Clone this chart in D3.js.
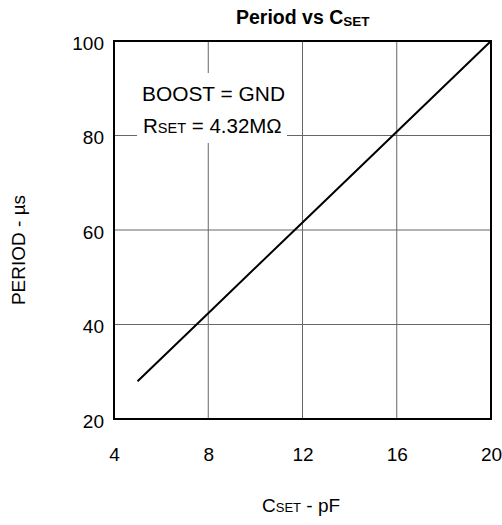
<!DOCTYPE html>
<html><head><meta charset="utf-8">
<script src="https://cdn.jsdelivr.net/npm/d3@7"></script>
<style>body{margin:0;background:#fff}svg{font-family:"Liberation Sans",Arial,sans-serif}</style>
</head><body><svg id="c" width="502" height="525"></svg>
<script>
const csetPF = [5, 8, 12, 16, 20];
const periodUs = [28, 42.4, 61.6, 80.8, 100];
const xTicks = [4, 8, 12, 16, 20];
const yTicks = [20, 40, 60, 80, 100];

const svg = d3.select("#c");
const L = 114, R = 491, T = 41, B = 419;
const x = d3.scaleLinear().domain([4, 20]).range([L, R]);
const y = d3.scaleLinear().domain([20, 100]).range([B, T]);

// grid
svg.append("g").selectAll("line").data(xTicks.slice(1, -1)).join("line")
  .attr("x1", d => x(d)).attr("x2", d => x(d)).attr("y1", T).attr("y2", B)
  .attr("stroke", "#666").attr("stroke-width", 1);
svg.append("g").selectAll("line").data(yTicks.slice(1, -1)).join("line")
  .attr("y1", d => y(d)).attr("y2", d => y(d)).attr("x1", L).attr("x2", R)
  .attr("stroke", "#666").attr("stroke-width", 1);

// annotation background
svg.append("rect").attr("x", 137).attr("y", 73).attr("width", 150).attr("height", 70).attr("fill", "#fff");

// axes
const xAxis = svg.append("g").attr("transform", `translate(0,${B})`)
  .call(d3.axisBottom(x).tickValues(xTicks).tickSize(0).tickPadding(0));
xAxis.select(".domain").remove();
xAxis.selectAll("text").attr("font-size", 19).attr("fill", "#000")
  .attr("font-family", "Liberation Sans, Arial, sans-serif").attr("dy", null).attr("y", 42);
const yAxis = svg.append("g").attr("transform", `translate(${L},0)`)
  .call(d3.axisLeft(y).tickValues(yTicks).tickSize(0).tickPadding(10));
yAxis.select(".domain").remove();
yAxis.selectAll("text").attr("font-size", 19).attr("fill", "#000")
  .attr("font-family", "Liberation Sans, Arial, sans-serif").attr("dy", null).attr("y", 8);

// data line
svg.append("path").datum(csetPF.map((c, i) => [c, periodUs[i]]))
  .attr("d", d3.line().x(d => x(d[0])).y(d => y(d[1])))
  .attr("fill", "none").attr("stroke", "#000").attr("stroke-width", 2);

// frame
svg.append("rect").attr("x", L).attr("y", T).attr("width", R - L).attr("height", B - T)
  .attr("fill", "none").attr("stroke", "#000").attr("stroke-width", 2);

// annotation text
svg.append("text").attr("x", 142).attr("y", 101).attr("font-size", 19.5)
  .attr("textLength", 143).attr("lengthAdjust", "spacingAndGlyphs").text("BOOST = GND");
const t2 = svg.append("text").attr("x", 143).attr("y", 133).attr("font-size", 20.5);
t2.append("tspan").text("R");
t2.append("tspan").attr("font-size", 14.5).text("SET");
t2.append("tspan").text(" = 4.32MΩ");

// title
const tt = svg.append("text").attr("x", 236).attr("y", 24).attr("font-size", 19.5).attr("font-weight", "bold");
tt.append("tspan").text("Period vs C");
tt.append("tspan").attr("font-size", 13.5).attr("dy", 2).text("SET");

// x label
const xl = svg.append("text").attr("x", 262).attr("y", 512).attr("font-size", 19);
xl.append("tspan").text("C");
xl.append("tspan").attr("font-size", 13).text("SET");
xl.append("tspan").text(" - pF");

// y label
svg.append("text").attr("transform", "translate(25,250) rotate(-90)").attr("text-anchor", "middle")
  .attr("font-size", 19).text("PERIOD - µs");
</script></body></html>
